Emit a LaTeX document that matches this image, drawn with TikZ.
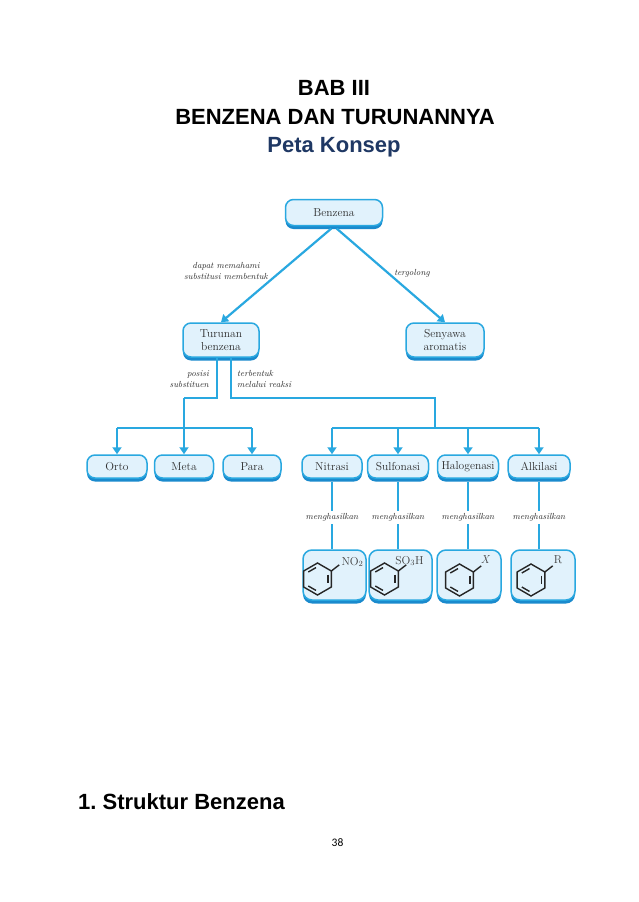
\documentclass[tikz,border=0pt]{standalone}
\usepackage{fontspec}
\newfontfamily\arialf{Liberation Sans}
\newfontfamily\calf{Carlito}
\usetikzlibrary{arrows.meta,shadows,calc}
\definecolor{lineblue}{RGB}{41,168,224}
\definecolor{shadeblue}{RGB}{26,138,205}
\definecolor{fillblue}{RGB}{225,242,252}
\definecolor{txtgray}{RGB}{45,45,45}
\definecolor{navy}{RGB}{31,56,100}
\begin{document}
\begin{tikzpicture}[x=1pt,y=1pt,
  box/.style={draw=lineblue, line width=1.5pt, fill=fillblue, rounded corners=8pt,
    inner sep=0pt, align=center, text=txtgray, font=\fontsize{11.5}{13}\selectfont,
    drop shadow={shadow xshift=0pt, shadow yshift=-3.5pt, fill=shadeblue, opacity=1}},
  rowbox/.style={box, minimum height=23pt},
  prodbox/.style={box, minimum height=50pt, rounded corners=9pt},
  conn/.style={draw=lineblue, line width=2.2pt},
  arr/.style={conn, -{Triangle[width=9pt,length=7pt]}},
  lab/.style={font=\fontsize{8.8}{11}\selectfont\itshape, text=txtgray, inner sep=1pt},
  ring/.style={line width=1.4pt, draw=black!85, line join=miter},
  subst/.style={font=\fontsize{11.5}{12}\selectfont, text=black!75, inner sep=0pt},
  titlef/.style={font=\arialf\bfseries\fontsize{22}{26}\selectfont, anchor=base, inner sep=0pt},
  benzring/.pic={
    \draw[ring] (90:16pt) -- (30:16pt) -- (-30:16pt) -- (-90:16pt) -- (-150:16pt) -- (150:16pt) -- cycle;
    \draw[ring] ($(150:12.3pt)!0.14!(90:12.3pt)$) -- ($(150:12.3pt)!0.86!(90:12.3pt)$);
    \draw[ring] ($(30:12.3pt)!0.14!(-30:12.3pt)$) -- ($(30:12.3pt)!0.86!(-30:12.3pt)$);
    \draw[ring] ($(-90:12.3pt)!0.14!(-150:12.3pt)$) -- ($(-90:12.3pt)!0.86!(-150:12.3pt)$);
    \draw[ring] (30:16pt) -- ++(38:10pt);
  }
]
\useasboundingbox[fill=white] (0,0) rectangle (638,-902);

% titles
\node[titlef] (t1) at (334,-95.5) {BAB III};
\node[titlef] (t2) at (335,-124.5) {BENZENA DAN TURUNANNYA};
\node[titlef, text=navy] (t3) at (334,-152.5) {Peta Konsep};
\node[titlef, anchor=base west] (s1) at (78,-809) {\frenchspacing 1.\ Struktur Benzena};
\node[font=\calf\fontsize{11.5}{13}\selectfont, anchor=base, inner sep=0pt] (pg) at (337.5,-846.5) {38};

% concept boxes
\node[box, minimum width=97pt, minimum height=26pt] (benz) at (334,-212.5) {Benzena};
\node[box, minimum width=76pt, minimum height=34pt] (tur) at (221,-340) {Turunan\\benzena};
\node[box, minimum width=78pt, minimum height=34pt] (sen) at (445,-340) {Senyawa\\aromatis};

\node[rowbox, minimum width=60pt] (orto) at (117,-466.5) {Orto};
\node[rowbox, minimum width=59pt] (meta) at (184,-466.5) {Meta};
\node[rowbox, minimum width=58pt] (para) at (252,-466.5) {Para};
\node[rowbox, minimum width=60pt] (nit) at (332,-466.5) {Nitrasi};
\node[rowbox, minimum width=61pt] (sul) at (398,-466.5) {Sulfonasi};
\node[rowbox, minimum width=61pt] (hal) at (468,-466.5) {Halogenasi};
\node[rowbox, minimum width=62pt] (alk) at (539,-466.5) {Alkilasi};

\node[prodbox, minimum width=63pt] (p1) at (334.5,-575) {};
\node[prodbox, minimum width=63pt] (p2) at (400.5,-575) {};
\node[prodbox, minimum width=64pt] (p3) at (469,-575) {};
\node[prodbox, minimum width=64pt] (p4) at (543,-575) {};

% rings and substituents
\pic at ($(p1.center)+(-17,-4)$) {benzring};
\pic at ($(p2.center)+(-16,-4)$) {benzring};
\pic at ($(p3.center)+(-9.5,-5)$) {benzring};
\pic at ($(p4.center)+(-12,-5)$) {benzring};
\node[subst] (no2) at ($(p1.center)+(18,13)$) {NO$_2$};
\node[subst] (so3h) at ($(p2.center)+(9,14)$) {SO$_3$H};
\node[subst, font=\fontsize{11.5}{12}\selectfont\itshape] (xs) at ($(p3.center)+(16,15)$) {X};
\node[subst] (rs) at ($(p4.center)+(15,15)$) {R};

% connectors from Benzena
\draw[arr, shorten <=3.5pt] (benz.south) -- (tur.north);
\draw[arr, shorten <=3.5pt] (benz.south) -- (sen.north);
\node[lab, align=center] (l1) at (226,-270.5) {dapat memahami\\substitusi membentuk};
\node[lab] (l2) at (412,-273) {tergolong};

% Turunan branches
\coordinate (jl) at (meta.north |- 0,-398);
\coordinate (jr) at (435,-398);
\coordinate (cl) at (0,-428);
\draw[conn] ([xshift=-4pt]tur.south) |- (jl);
\draw[arr] (jl) -- (meta.north);
\draw[conn] (cl -| orto.north) -- (cl -| para.north);
\draw[arr] (cl -| orto.north) -- (orto.north);
\draw[arr] (cl -| para.north) -- (para.north);

\draw[conn] ([xshift=10pt]tur.south) |- (jr) -- (jr |- cl);
\draw[conn] (cl -| nit.north) -- (cl -| alk.north);
\draw[arr] (cl -| nit.north) -- (nit.north);
\draw[arr] (cl -| sul.north) -- (sul.north);
\draw[arr] (cl -| hal.north) -- (hal.north);
\draw[arr] (cl -| alk.north) -- (alk.north);

\node[lab, align=right, anchor=east] (l3) at (210,-379) {posisi\\substituen};
\node[lab, align=left, anchor=west] (l4) at (236,-379) {terbentuk\\melalui reaksi};

% reactions to products
\foreach \a/\b in {nit/p1, sul/p2, hal/p3, alk/p4}{
  \draw[conn, shorten <=3.5pt] (\a.south) -- (\a.south |- \b.north)
    node[lab, fill=white, inner sep=3pt, pos=0.55] {menghasilkan};
}
\end{tikzpicture}
\end{document}
